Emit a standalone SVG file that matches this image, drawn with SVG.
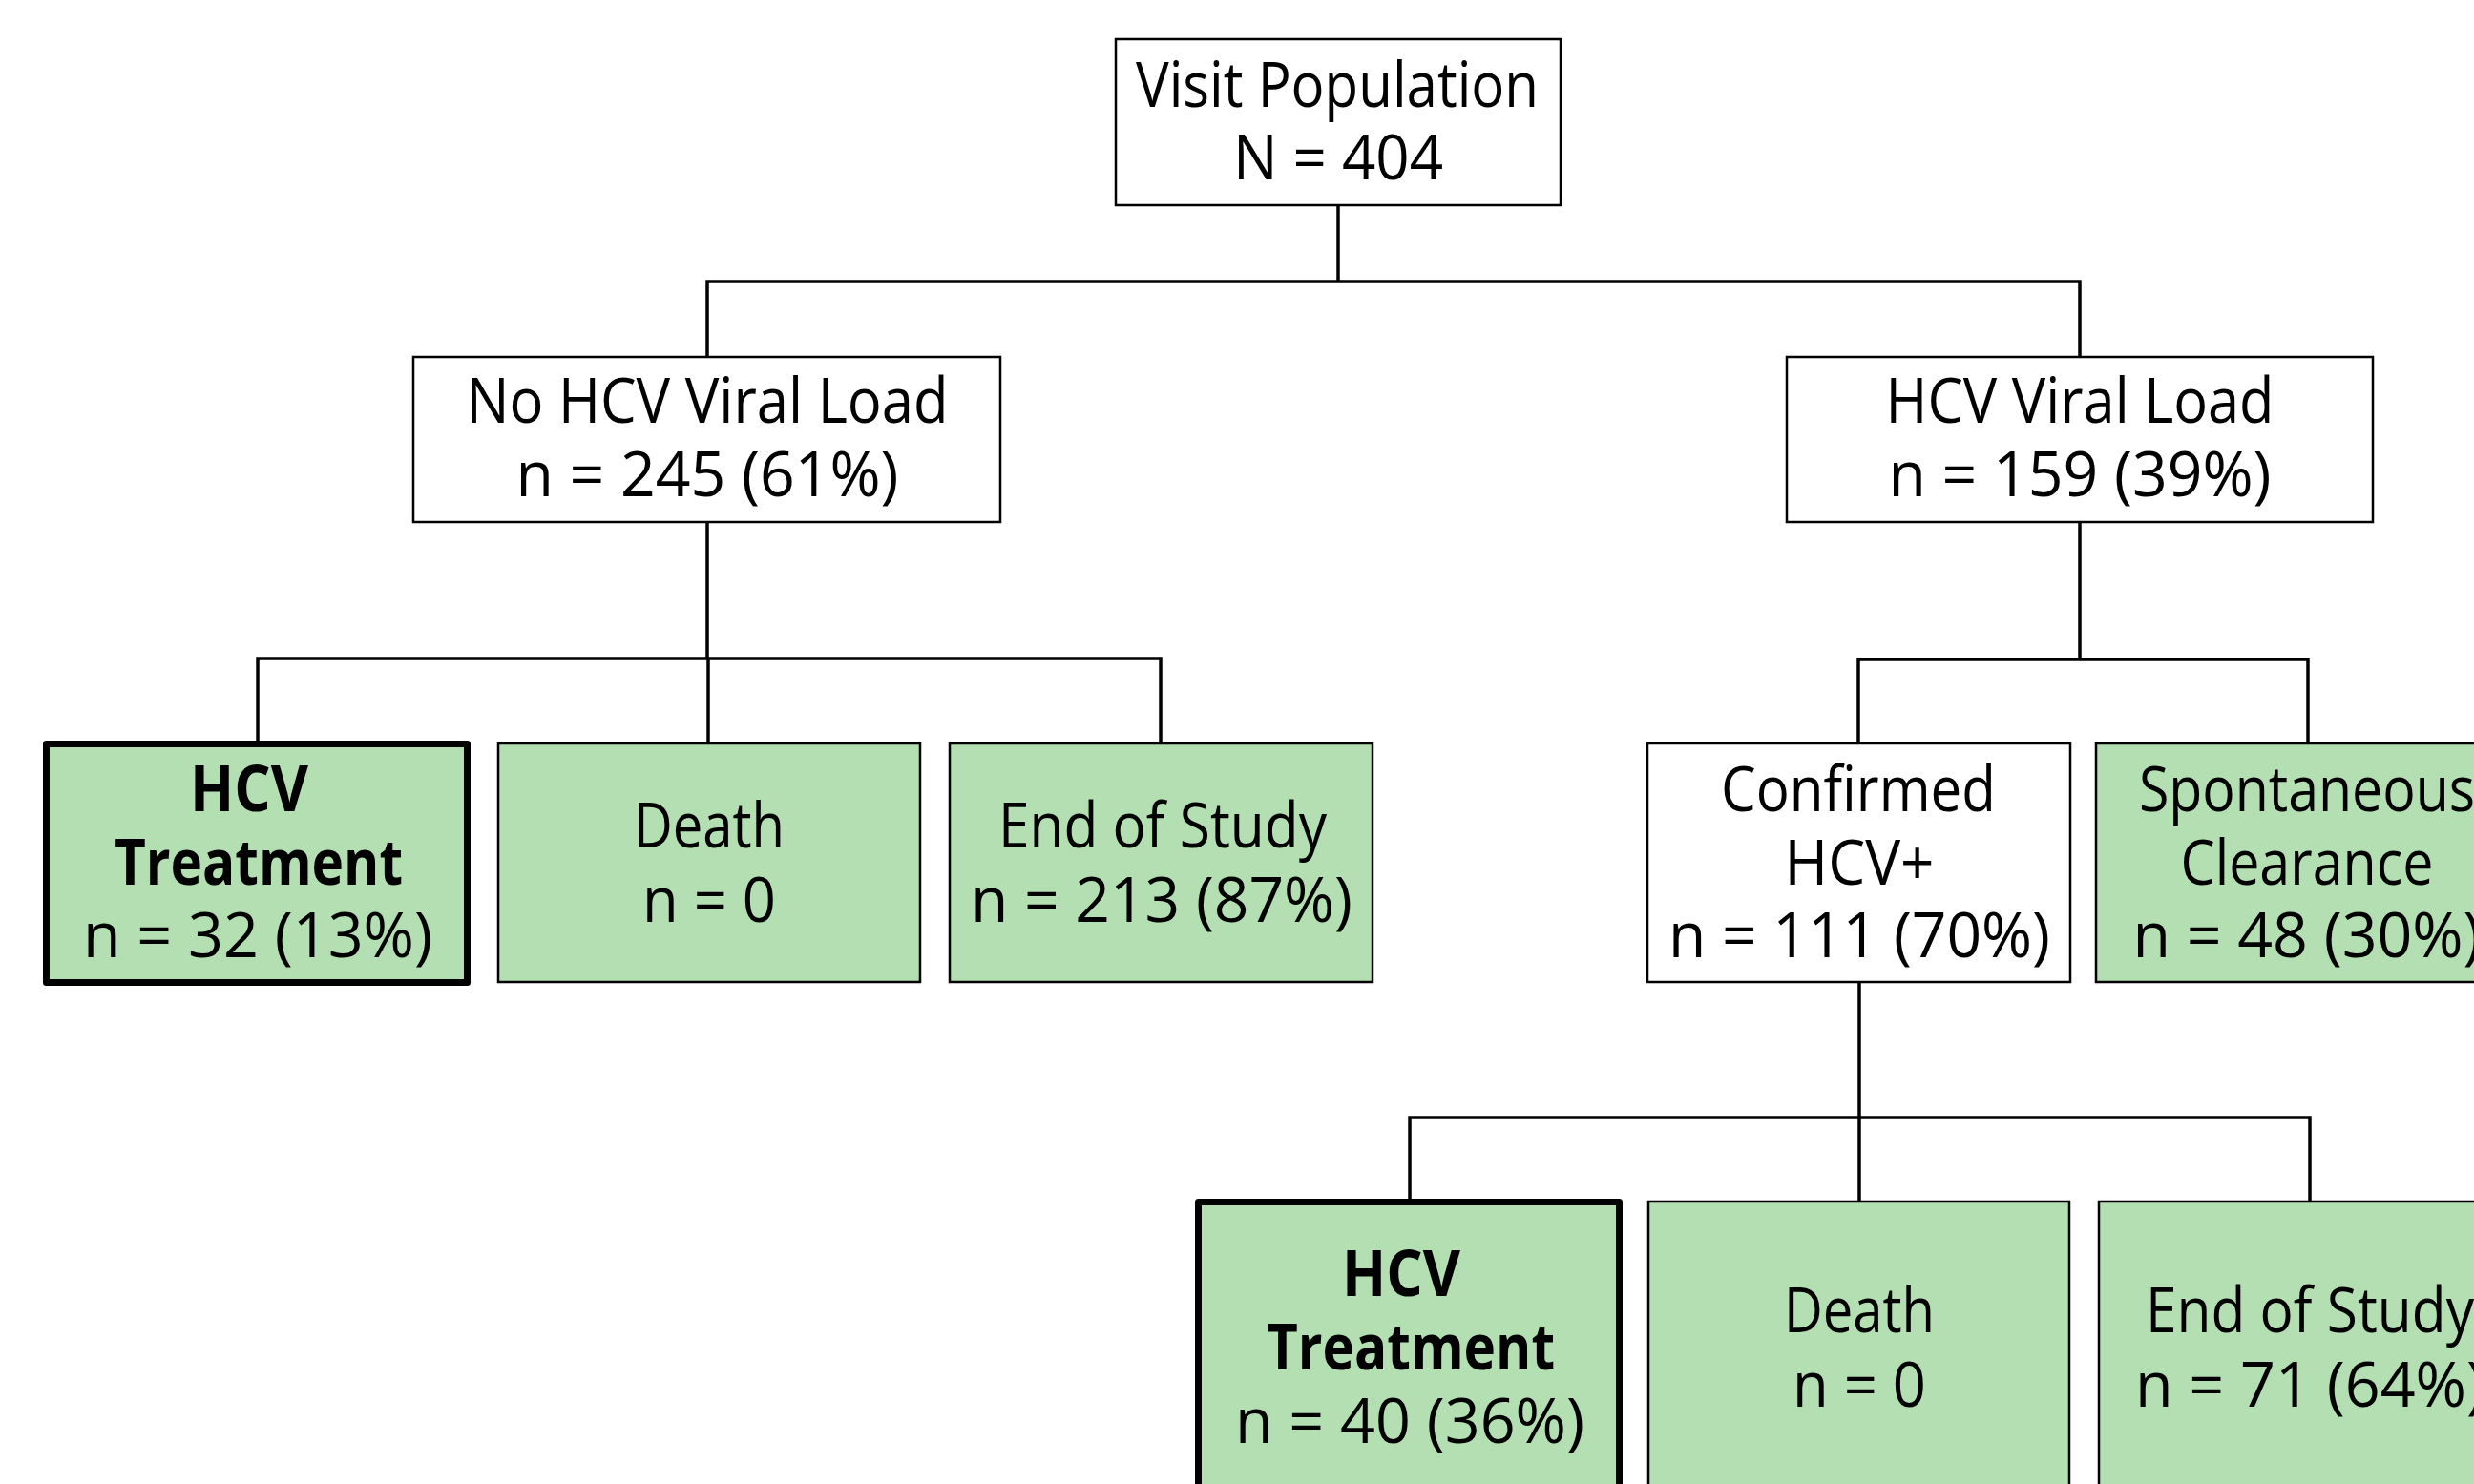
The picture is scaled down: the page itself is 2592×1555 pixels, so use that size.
<svg xmlns="http://www.w3.org/2000/svg" width="2592" height="1555" viewBox="0 0 2592 1555">
<style>
.bg{fill:#ffffff}
.box{stroke:#000;stroke-width:2.5}
.white{fill:#ffffff}
.green{fill:#b3dfb3}
.thick{stroke:#000;stroke-width:7;stroke-linejoin:round}
.conn{fill:none;stroke:#000;stroke-width:3.5;stroke-linecap:square}
text{font-family:"Open Sans","Noto Sans","Liberation Sans",sans-serif;font-size:66px;fill:#000;text-anchor:middle}
.b{font-weight:bold}
</style>
<rect class="bg" x="0" y="0" width="2592" height="1555"/>
<g id="connectors">
<path class="conn" d="M1402 215 V295 M741 295 H2179 M741 295 V374 M2179 295 V374"/>
<path class="conn" d="M741 547 V690 M270 690 H1216 M270 690 V776 M742 690 V779 M1216 690 V779"/>
<path class="conn" d="M2179 547 V691 M1947 691 H2418 M1947 691 V779 M2418 691 V779"/>
<path class="conn" d="M1948 1029 V1259 M1477 1171 H2420 M1477 1171 V1256 M2420 1171 V1259"/>
</g>
<g id="visit">
<rect class="box white" x="1169" y="41" width="466" height="174"/>
<text x="1401" y="112" textLength="422" lengthAdjust="spacingAndGlyphs">Visit Population</text>
<text x="1402" y="188" textLength="220" lengthAdjust="spacingAndGlyphs">N = 404</text>
</g>
<g id="noviral">
<rect class="box white" x="433" y="374" width="615" height="173"/>
<text x="741" y="443" textLength="505" lengthAdjust="spacingAndGlyphs">No HCV Viral Load</text>
<text x="741" y="520" textLength="401" lengthAdjust="spacingAndGlyphs">n = 245 (61%)</text>
</g>
<g id="viral">
<rect class="box white" x="1872" y="374" width="614" height="173"/>
<text x="2179" y="443" textLength="407" lengthAdjust="spacingAndGlyphs">HCV Viral Load</text>
<text x="2179" y="520" textLength="401" lengthAdjust="spacingAndGlyphs">n = 159 (39%)</text>
</g>
<g id="treat1">
<rect class="thick green" x="48.5" y="779.5" width="441" height="250"/>
<text class="b" x="261" y="850" textLength="124" lengthAdjust="spacingAndGlyphs">HCV</text>
<text class="b" x="271" y="927" textLength="302" lengthAdjust="spacingAndGlyphs">Treatment</text>
<text x="270" y="1003" textLength="366" lengthAdjust="spacingAndGlyphs">n = 32 (13%)</text>
</g>
<g id="death1">
<rect class="box green" x="522" y="779" width="442" height="250"/>
<text x="743" y="888" textLength="158" lengthAdjust="spacingAndGlyphs">Death</text>
<text x="743" y="966" textLength="140" lengthAdjust="spacingAndGlyphs">n = 0</text>
</g>
<g id="end1">
<rect class="box green" x="995" y="779" width="443" height="250"/>
<text x="1218" y="888" textLength="344" lengthAdjust="spacingAndGlyphs">End of Study</text>
<text x="1217" y="966" textLength="400" lengthAdjust="spacingAndGlyphs">n = 213 (87%)</text>
</g>
<g id="confirmed">
<rect class="box white" x="1726" y="779" width="443" height="250"/>
<text x="1947" y="850" textLength="288" lengthAdjust="spacingAndGlyphs">Confirmed</text>
<text x="1948" y="927" textLength="157" lengthAdjust="spacingAndGlyphs">HCV+</text>
<text x="1948" y="1003" textLength="400" lengthAdjust="spacingAndGlyphs">n = 111 (70%)</text>
</g>
<g id="spont">
<rect class="box green" x="2196" y="779" width="443" height="250"/>
<text x="2417" y="850" textLength="352" lengthAdjust="spacingAndGlyphs">Spontaneous</text>
<text x="2417" y="927" textLength="265" lengthAdjust="spacingAndGlyphs">Clearance</text>
<text x="2417" y="1003" textLength="365" lengthAdjust="spacingAndGlyphs">n = 48 (30%)</text>
</g>
<g id="treat2">
<rect class="thick green" x="1255.5" y="1259.5" width="441" height="308"/>
<text class="b" x="1468" y="1358" textLength="124" lengthAdjust="spacingAndGlyphs">HCV</text>
<text class="b" x="1478" y="1435" textLength="302" lengthAdjust="spacingAndGlyphs">Treatment</text>
<text x="1477" y="1512" textLength="366" lengthAdjust="spacingAndGlyphs">n = 40 (36%)</text>
</g>
<g id="death2">
<rect class="box green" x="1727" y="1259" width="441" height="308"/>
<text x="1948" y="1396" textLength="158" lengthAdjust="spacingAndGlyphs">Death</text>
<text x="1948" y="1474" textLength="140" lengthAdjust="spacingAndGlyphs">n = 0</text>
</g>
<g id="end2">
<rect class="box green" x="2199" y="1259" width="443" height="308"/>
<text x="2420" y="1396" textLength="344" lengthAdjust="spacingAndGlyphs">End of Study</text>
<text x="2420" y="1474" textLength="366" lengthAdjust="spacingAndGlyphs">n = 71 (64%)</text>
</g>
</svg>
